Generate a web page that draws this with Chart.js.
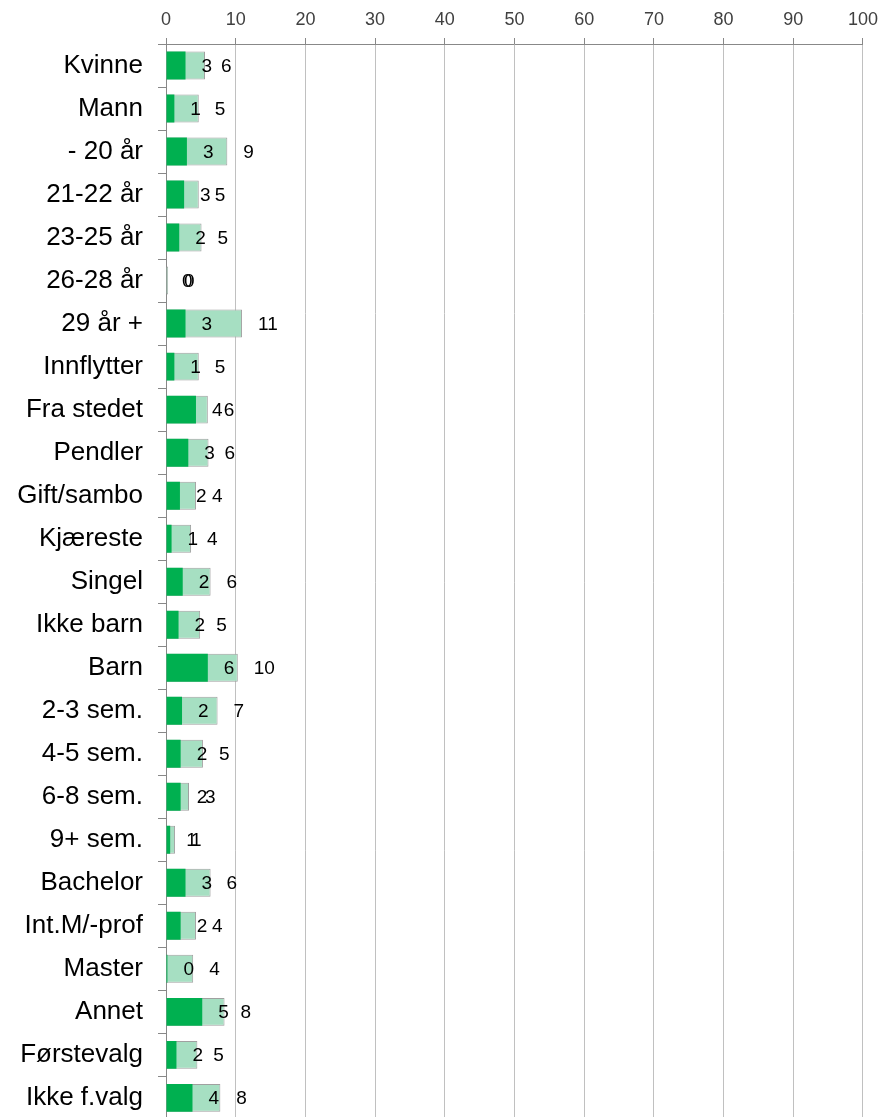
<!DOCTYPE html>
<html>
<head>
<meta charset="utf-8">
<script src="https://cdn.jsdelivr.net/npm/chart.js@4.4.1/dist/chart.umd.min.js"></script>
<style>
  html, body { margin: 0; padding: 0; background: #fff; overflow: hidden; }
  canvas { display: block; }
</style>
</head>
<body>
<canvas id="chart" width="885" height="1150"></canvas>
<script>
// categories (top to bottom)
const categories = [
  "Kvinne", "Mann", "- 20 år", "21-22 år", "23-25 år", "26-28 år", "29 år +",
  "Innflytter", "Fra stedet", "Pendler", "Gift/sambo", "Kjæreste", "Singel",
  "Ikke barn", "Barn", "2-3 sem.", "4-5 sem.", "6-8 sem.", "9+ sem.",
  "Bachelor", "Int.M/-prof", "Master", "Annet", "Førstevalg", "Ikke f.valg"
];

// dark green series (front)
const darkValues = [
  2.8, 1.2, 3.0, 2.6, 1.9, 0, 2.8,
  1.2, 4.3, 3.2, 2.0, 0.8, 2.4,
  1.8, 6.0, 2.3, 2.1, 2.1, 0.6,
  2.8, 2.1, 0.2, 5.2, 1.5, 3.8
];

// light green series (behind)
const lightValues = [
  5.6, 4.7, 8.8, 4.7, 5.1, 0.3, 10.9,
  4.7, 6.0, 6.1, 4.3, 3.6, 6.4,
  4.9, 10.3, 7.4, 5.3, 3.3, 1.3,
  6.4, 4.3, 3.9, 8.4, 4.5, 7.8
];

// value axis ticks
const xMin = 0;
const xMax = 100;
const xStep = 10;

const FONT = "'Liberation Sans', Arial, sans-serif";

// number labels just past the end of each bar
const valueLabels = {
  id: "valueLabels",
  afterDatasetsDraw(chart) {
    const ctx = chart.ctx;
    ctx.save();
    ctx.font = "19px " + FONT;
    ctx.fillStyle = "#000";
    ctx.textAlign = "left";
    ctx.textBaseline = "middle";
    chart.data.datasets.forEach((ds, i) => {
      chart.getDatasetMeta(i).data.forEach((bar, j) => {
        ctx.fillText(String(Math.round(ds.data[j])), bar.x + 16, bar.y + 1);
      });
    });
    ctx.restore();
  }
};

new Chart(document.getElementById("chart"), {
  type: "bar",
  data: {
    labels: categories,
    datasets: [
      {
        data: darkValues,
        backgroundColor: "#00b050",
        borderWidth: 0,
        order: 0
      },
      {
        data: lightValues,
        backgroundColor: "#a6dfc2",
        borderColor: "#a0a0a0",
        borderWidth: 1,
        order: 1
      }
    ]
  },
  options: {
    indexAxis: "y",
    responsive: false,
    animation: false,
    layout: { padding: { top: 0, right: 19, bottom: 0, left: 0 } },
    datasets: {
      bar: { categoryPercentage: 1, barPercentage: 0.65 }
    },
    plugins: {
      legend: { display: false },
      tooltip: { enabled: false }
    },
    scales: {
      x: {
        position: "top",
        min: xMin,
        max: xMax,
        ticks: {
          stepSize: xStep,
          padding: 7,
          color: "#404040",
          font: { family: FONT, size: 18 }
        },
        grid: {
          color: "#c0c0c0",
          tickColor: "#888",
          tickLength: 6
        },
        border: { color: "#888" },
        afterFit(s) { s.height = 44; }
      },
      y: {
        stacked: true,
        ticks: {
          padding: 15,
          color: "#000",
          font: { family: FONT, size: 26 }
        },
        grid: {
          drawOnChartArea: false,
          color: "#888",
          tickLength: 8,
          offset: true
        },
        border: { color: "#888" },
        afterFit(s) { s.width = 166; }
      }
    }
  },
  plugins: [valueLabels]
});
</script>
</body>
</html>
